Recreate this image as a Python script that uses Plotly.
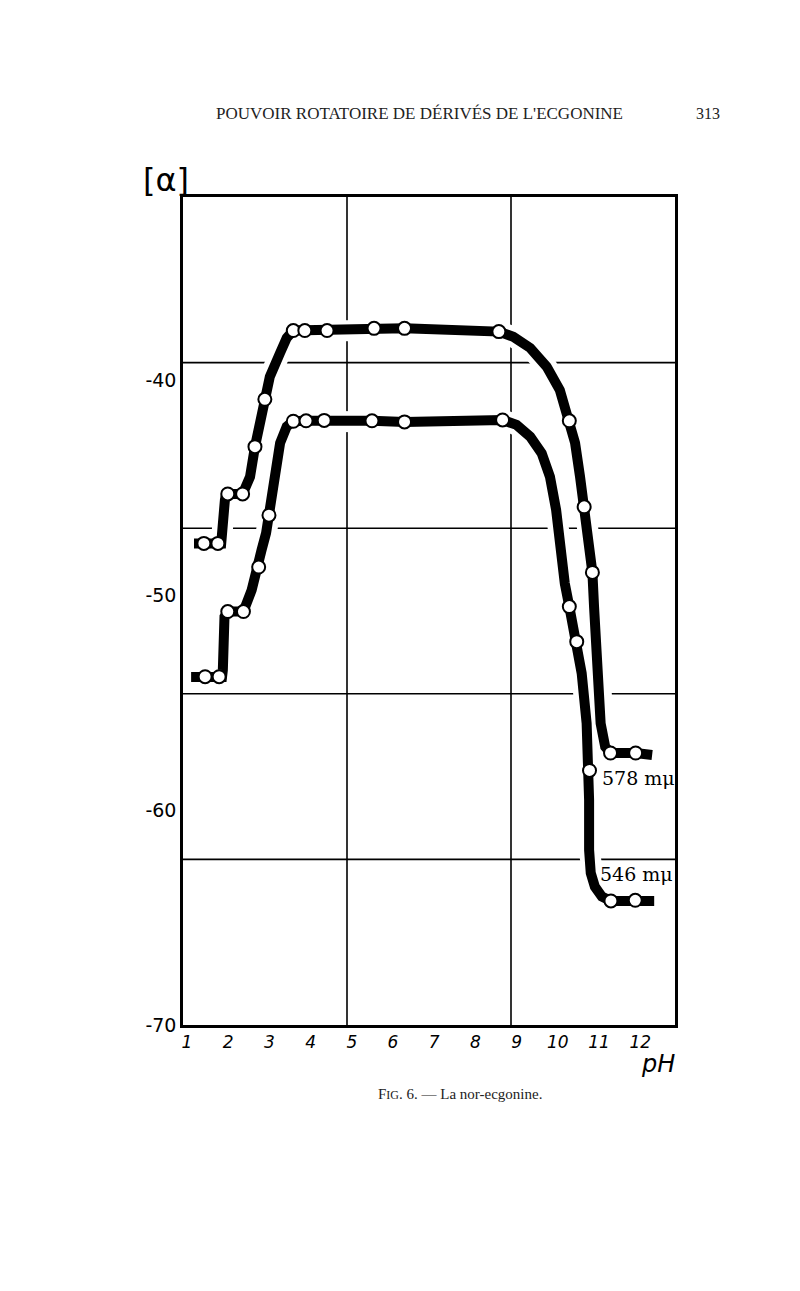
import plotly.graph_objects as go

# ---- data (pH, specific rotation [alpha]) ----
ph_578_pts = [1.41, 1.75, 1.99, 2.35, 2.65, 2.89, 3.58, 3.86, 4.40, 5.54, 6.28, 8.57,
              10.28, 10.64, 10.84, 11.28, 11.89]
alpha_578_pts = [-47.6, -47.6, -45.3, -45.3, -43.1, -40.9, -37.7, -37.7, -37.7, -37.6, -37.6, -37.75,
                 -41.9, -45.9, -48.95, -57.35, -57.35]

ph_578_curve = [1.17, 1.83, 1.92, 1.95, 2.35, 2.53, 2.65, 2.77, 2.89, 3.01, 3.26, 3.42, 3.58,
                3.86, 4.40, 5.54, 6.28, 8.57, 8.92, 9.33, 9.73, 10.05, 10.28, 10.42, 10.54,
                10.64, 10.74, 10.81, 10.84, 10.88, 10.96, 11.04, 11.15, 11.28, 11.89, 12.29]
alpha_578_curve = [-47.6, -47.6, -45.58, -45.3, -45.3, -44.5, -43.1, -41.86, -40.9, -39.85, -38.74,
                   -38.05, -37.7, -37.7, -37.7, -37.6, -37.6, -37.75, -37.99, -38.51, -39.38,
                   -40.47, -41.9, -42.93, -44.5, -45.9, -46.82, -47.91, -48.95, -50.54, -53.64,
                   -55.97, -57.06, -57.35, -57.35, -57.44]

ph_546_pts = [1.44, 1.78, 1.99, 2.37, 2.74, 2.99, 3.58, 3.89, 4.33, 5.49, 6.28, 8.66,
              10.28, 10.46, 10.77, 11.29, 11.88]
alpha_546_pts = [-53.8, -53.8, -50.77, -50.77, -48.7, -46.29, -41.92, -41.9, -41.88, -41.9, -41.95,
                 -41.86, -50.54, -52.17, -58.16, -64.23, -64.2]

ph_546_curve = [1.10, 1.85, 1.87, 1.91, 1.99, 2.37, 2.57, 2.74, 2.81, 2.92, 2.99, 3.06, 3.14,
                3.26, 3.42, 3.58, 3.89, 4.33, 5.49, 6.28, 8.66, 9.00, 9.33, 9.61, 9.81, 9.96,
                10.05, 10.17, 10.28, 10.46, 10.58, 10.70, 10.77, 10.76, 10.76, 10.80, 10.90,
                11.07, 11.29, 11.88, 12.34]
alpha_546_curve = [-53.81, -53.81, -53.49, -51.01, -50.77, -50.77, -49.77, -48.7, -47.91, -47.12,
                   -46.29, -45.43, -44.19, -42.93, -42.17, -41.92, -41.9, -41.88, -41.9, -41.95,
                   -41.86, -42.09, -42.64, -43.41, -44.5, -46.05, -47.91, -49.46, -50.54, -52.17,
                   -53.64, -55.97, -58.16, -59.53, -61.86, -62.93, -63.57, -64.03, -64.23, -64.2,
                   -64.23]

x_ticks = [1, 2, 3, 4, 5, 6, 7, 8, 9, 10, 11, 12]
y_ticks = [-40, -50, -60, -70]
y_ticktext = ["-40", "-50", "-60", "-70"]
series_labels = ["578 mμ", "546 mμ"]

# page geometry (html body adds an 8px margin on each side)
W, H = 784, 1275
PL, PT, PW, PH_ = 175, 189, 492, 828


def px(xp):   # page pixel x -> paper fraction
    return (xp - 8 - PL) / PW


def py(yp):   # page pixel y -> paper fraction
    return (PT + PH_ - (yp - 8)) / PH_


fig = go.Figure()

for xs, ys in [(ph_578_curve, alpha_578_curve), (ph_546_curve, alpha_546_curve)]:
    # white halo (breaks the grid lines around the curves)
    fig.add_trace(go.Scatter(x=xs, y=ys, mode="lines",
                             line=dict(color="white", width=21),
                             hoverinfo="skip", showlegend=False))
for xs, ys in [(ph_578_curve, alpha_578_curve), (ph_546_curve, alpha_546_curve)]:
    fig.add_trace(go.Scatter(x=xs, y=ys, mode="lines",
                             line=dict(color="black", width=10),
                             hoverinfo="skip", showlegend=False))
for xs, ys, name in [(ph_578_pts, alpha_578_pts, series_labels[0]),
                     (ph_546_pts, alpha_546_pts, series_labels[1])]:
    fig.add_trace(go.Scatter(x=xs, y=ys, mode="markers", name=name,
                             marker=dict(symbol="circle", size=13, color="white",
                                         line=dict(color="black", width=2)),
                             showlegend=False))

# drawing grid: 3 columns x 5 rows of the frame
shapes = []
for fx in [1 / 3, 2 / 3]:
    shapes.append(dict(type="line", xref="paper", yref="paper", x0=fx, x1=fx, y0=0, y1=1,
                       line=dict(color="black", width=1.6), layer="below"))
for fy in [0.2, 0.4, 0.6, 0.8]:
    shapes.append(dict(type="line", xref="paper", yref="paper", x0=0, x1=1, y0=fy, y1=fy,
                       line=dict(color="black", width=1.6), layer="below"))

common = dict(showarrow=False, xanchor="center", yanchor="middle")
annotations = [
    dict(text="POUVOIR ROTATOIRE DE DÉRIVÉS DE L'ECGONINE", xref="paper", yref="paper",
         x=px(419), y=py(113), font=dict(family="Liberation Serif", size=17, color="#222"), **common),
    dict(text="313", xref="paper", yref="paper", x=px(708), y=py(113),
         font=dict(family="Liberation Serif", size=16, color="#222"), **common),
    dict(text="[α]", xref="paper", yref="paper", x=px(166), y=py(180),
         font=dict(family="DejaVu Sans", size=32, color="black"), **common),
    dict(text="F<span style='font-size:12px'>IG</span>. 6. — La nor-ecgonine.",
         xref="paper", yref="paper", x=px(460), y=py(1094),
         font=dict(family="Liberation Serif", size=15, color="#222"), **common),
    dict(text="<i>pH</i>", xref="paper", yref="paper", x=px(658), y=py(1064),
         font=dict(family="DejaVu Sans", size=24, color="black"), **common),
    dict(text=series_labels[0], x=11.95, y=-58.5,
         font=dict(family="DejaVu Serif", size=19, color="black"), **common),
    dict(text=series_labels[1], x=11.9, y=-63.0,
         font=dict(family="DejaVu Serif", size=19, color="black"), **common),
]

fig.update_layout(
    width=W, height=H, autosize=False,
    margin=dict(l=PL, r=W - PL - PW, t=PT, b=H - PT - PH_, pad=0),
    paper_bgcolor="white", plot_bgcolor="white",
    showlegend=False, shapes=shapes, annotations=annotations,
    xaxis=dict(range=[0.903, 12.845], showgrid=False, zeroline=False,
               showline=True, mirror=True, linecolor="black", linewidth=2.5,
               tickvals=x_ticks, ticktext=[f"<i>{v}</i>" for v in x_ticks], ticks="",
               tickfont=dict(family="DejaVu Sans", size=17, color="black")),
    yaxis=dict(range=[-70, -31.49], showgrid=False, zeroline=False,
               showline=True, mirror=True, linecolor="black", linewidth=2.5,
               tickvals=y_ticks, ticktext=y_ticktext, ticks="",
               tickfont=dict(family="DejaVu Sans", size=19, color="black")),
)

fig.write_html("out.html")
